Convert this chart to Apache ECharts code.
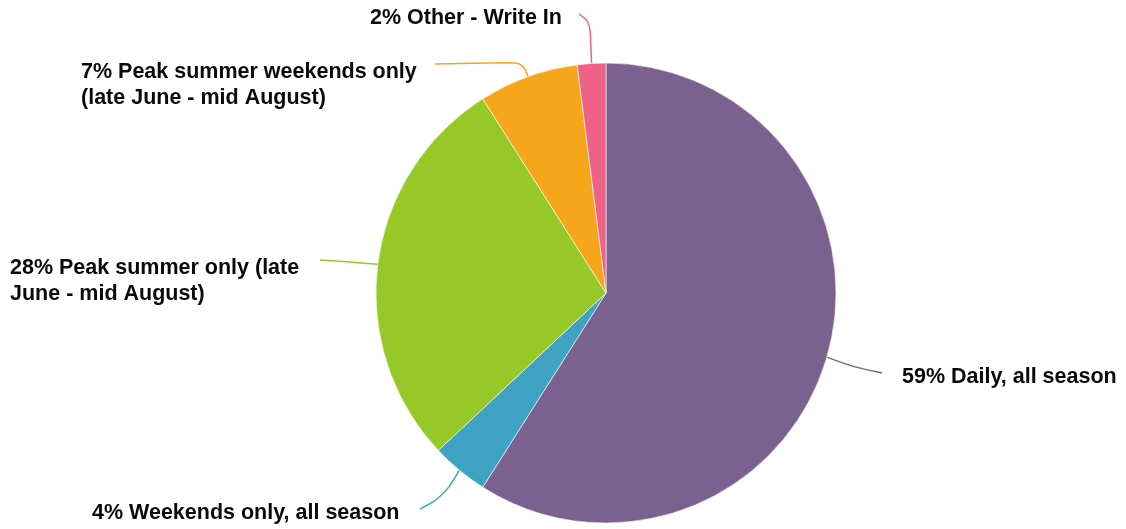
<!DOCTYPE html>
<html><head><meta charset="utf-8">
<script src="https://cdn.jsdelivr.net/npm/echarts@6/dist/echarts.min.js"></script>
<style>html,body{margin:0;padding:0;background:#fff}#c{width:1126px;height:529px}</style>
</head><body><div id="c"></div>
<script>
const categories = [
  'Daily, all season',
  'Weekends only, all season',
  'Peak summer only (late\nJune - mid August)',
  'Peak summer weekends only\n(late June - mid August)',
  'Other - Write In'
];
const values = [59, 4, 28, 7, 2];
const colors = ['#7B6190', '#40A2C3', '#96C828', '#F5A61B', '#EF6287'];

// label layout (positions only)
const labelPos = [
  {x: 902, y: 377, mid: [850, 366], end: [882, 373]},
  {x: 92, y: 513, mid: [444, 496], end: [420, 509]},
  {x: 10, y: 281, mid: [350, 262], end: [320, 260]},
  {x: 81, y: 85, mid: [522, 62], end: [435, 64]},
  {x: 370, y: 18, mid: [590, 22], end: [579, 14]}
];

const chart = echarts.init(document.getElementById('c'), null, {renderer: 'canvas'});
chart.setOption({
  animation: false,
  series: [{
    type: 'pie',
    center: [606, 293],
    radius: [0, 230],
    startAngle: 90,
    clockwise: true,
    avoidLabelOverlap: false,
    itemStyle: {borderColor: '#fff', borderWidth: 0.6},
    label: {
      show: true,
      formatter: '{c}% {b}',
      color: '#0a0a0a',
      fontFamily: '"Liberation Sans", Arial, sans-serif',
      fontWeight: 'bold',
      fontSize: 21.5,
      lineHeight: 26
    },
    labelLine: {show: true, smooth: 0.35, lineStyle: {width: 1.5}},
    labelLayout: function (p) {
      const lp = labelPos[p.dataIndex];
      const s = p.labelLinePoints ? p.labelLinePoints[0] : lp.mid;
      return {
        x: lp.x, y: lp.y, align: 'left', verticalAlign: 'middle',
        labelLinePoints: [s, lp.mid, lp.end]
      };
    },
    data: categories.map((n, i) => ({
      name: n, value: values[i],
      itemStyle: {color: colors[i]},
      labelLine: {lineStyle: {color: colors[i]}}
    }))
  }]
});
</script></body></html>
